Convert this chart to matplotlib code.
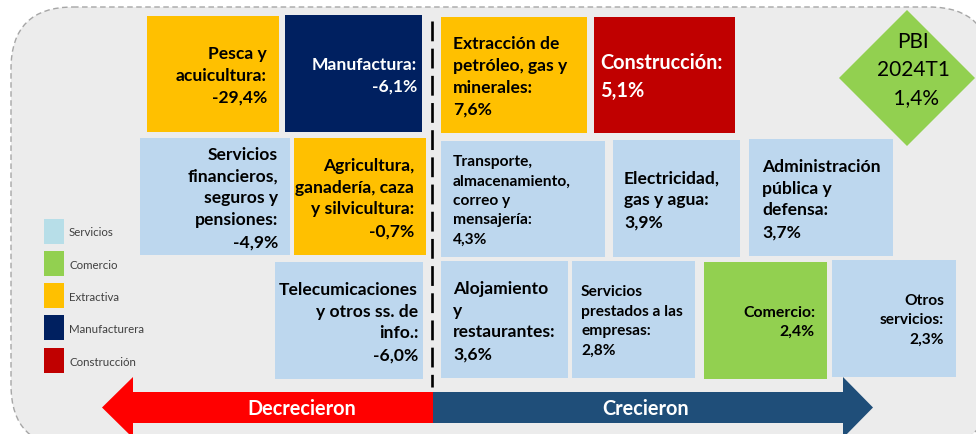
import matplotlib

matplotlib.use("Agg")
import matplotlib.pyplot as plt
from matplotlib.patches import Rectangle, Polygon, FancyBboxPatch

# data
sectores = [
    "Pesca y\nacuicultura:",
    "Manufactura:",
    "Extracción de\npetróleo, gas y\nminerales:",
    "Construcción:",
    "Servicios\nfinancieros,\nseguros y\npensiones:",
    "Agricultura,\nganadería, caza\ny silvicultura:",
    "Transporte,\nalmacenamiento,\ncorreo y\nmensajería:",
    "Electricidad,\ngas y agua:",
    "Administración\npública y\ndefensa:",
    "Telecumicaciones\ny otros ss. de\ninfo.:",
    "Alojamiento\ny\nrestaurantes:",
    "Servicios\nprestados a las\nempresas:",
    "Comercio:",
    "Otros\nservicios:",
]
variacion = [-29.4, -6.1, 7.6, 5.1, -4.9, -0.7, 4.3, 3.9, 3.7, -6.0, 3.6, 2.8, 2.4, 2.3]
grupo = [
    "Extractiva", "Manufacturera", "Extractiva", "Construcción",
    "Servicios", "Extractiva", "Servicios", "Servicios", "Servicios",
    "Servicios", "Servicios", "Servicios", "Comercio", "Servicios",
]
grupos_leyenda = ["Servicios", "Comercio", "Extractiva", "Manufacturera", "Construcción"]
pbi_periodo = "2024T1"
pbi_valor = 1.4

# styles
color_caja = {
    "Servicios": "#bdd7ee",
    "Comercio": "#92d050",
    "Extractiva": "#ffc000",
    "Manufacturera": "#002060",
    "Construcción": "#c00000",
}
color_leyenda = dict(color_caja, Servicios="#b7dee8")
texto_blanco = {"Manufacturera", "Construcción"}

# layout in pixels: x0, y0, x1, y1, alignment, font size
cajas = [
    (147, 17, 279, 133, "right", 12.6),
    (285, 16, 422, 133, "right", 12.6),
    (441, 18, 587, 134, "left", 12.6),
    (594, 18, 735, 134, "left", 14.3),
    (140, 139, 290, 256, "right", 12.6),
    (294, 139, 426, 256, "right", 12.6),
    (441, 142, 605, 258, "left", 11.2),
    (613, 141, 740, 258, "left", 12.6),
    (749, 140, 893, 257, "left", 12.6),
    (275, 263, 423, 380, "right", 12.6),
    (441, 262, 568, 379, "left", 12.6),
    (572, 262, 695, 379, "left", 11.2),
    (704, 263, 827, 380, "right", 11.4),
    (832, 261, 956, 378, "right", 11.2),
]
pad = [12, 5, 12, 6, 12, 12, 12, 11, 13, 5, 12, 9, 12, 12]


def fmt(v):
    return f"{v:.1f}".replace(".", ",") + "%"


W, H = 976, 435
fig = plt.figure(figsize=(W / 100, H / 100), dpi=100)
ax = fig.add_axes([0, 0, 1, 1])
ax.set_xlim(0, W)
ax.set_ylim(H, 0)
ax.axis("off")

fondo = FancyBboxPatch((11, 8), 980, 440, boxstyle="round,pad=0,rounding_size=62",
                       facecolor="#ececec", edgecolor="#a6a6a6", lw=1.0,
                       linestyle=(0, (4, 2.5)))
ax.add_patch(fondo)

for nombre, v, g, caja, p in zip(sectores, variacion, grupo, cajas, pad):
    x0, y0, x1, y1, ha, fs = caja
    ax.add_patch(Rectangle((x0, y0), x1 - x0, y1 - y0, facecolor=color_caja[g], edgecolor="none"))
    tx = x1 - p if ha == "right" else x0 + p
    ax.text(tx, (y0 + y1) / 2 + 1, nombre + "\n" + fmt(v), ha=ha, va="center",
            multialignment=ha, fontsize=fs, fontweight="bold",
            family="Lato", linespacing=1.5 if fs < 12 else 1.46,
            color="white" if g in texto_blanco else "black")

# divider
ax.plot([432, 432], [22, 388], color="black", lw=1.9, linestyle=(0, (7.5, 2.8)))

# PBI diamond
ax.add_patch(Polygon([(907, 11), (975, 79), (907, 147), (839, 79)], closed=True,
                     facecolor="#92d050", edgecolor="none"))
ax.text(913, 70, f"PBI\n{pbi_periodo}\n {fmt(pbi_valor)}", ha="center", va="center",
        fontsize=15, family="Lato", linespacing=1.5, color="black")

# legend
for i, g in enumerate(grupos_leyenda):
    yc = 232 + i * 32.3
    ax.add_patch(Rectangle((44, yc - 12.5), 19.5, 25, facecolor=color_leyenda[g], edgecolor="none"))
    ax.text(69, yc + 1, g, ha="left", va="center", fontsize=8.3, family="Lato", color="#404040")

# arrows
ax.add_patch(Polygon([(433, 393), (133, 393), (133, 378), (102, 408.5), (133, 439),
                      (133, 424), (433, 424)], closed=True, facecolor="#ff0000", edgecolor="none"))
ax.add_patch(Polygon([(433, 393), (843, 393), (843, 378), (873, 408.5), (843, 439),
                      (843, 424), (433, 424)], closed=True, facecolor="#1f4e79", edgecolor="none"))
ax.text(302, 409, "Decrecieron", ha="center", va="center", fontsize=14.3, fontweight="bold",
        family="Lato", color="white")
ax.text(646, 409, "Crecieron", ha="center", va="center", fontsize=14.3, fontweight="bold",
        family="Lato", color="white")

fig.savefig("out.png", dpi=100)
